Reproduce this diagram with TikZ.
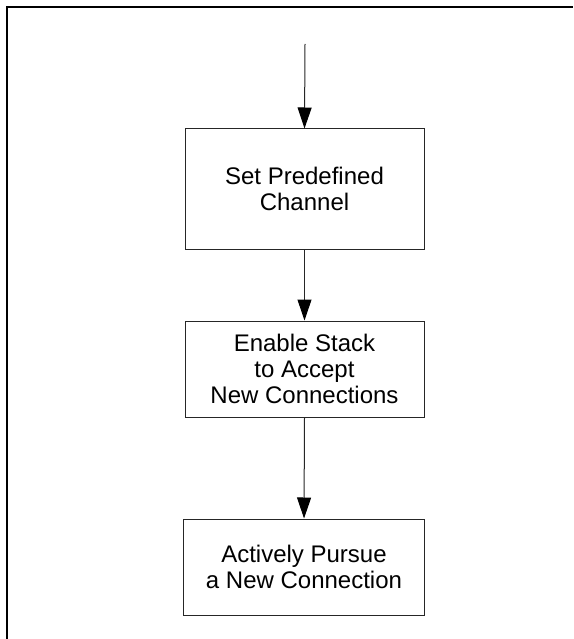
\documentclass[tikz,border=0pt]{standalone}
\usepackage{fontspec}
\setmainfont{Liberation Sans}
\usetikzlibrary{arrows.meta}
\begin{document}
\begin{tikzpicture}[x=1pt,y=-1pt,
  stepbox/.style={draw=black!85, line width=1pt, rectangle, align=center,
    inner sep=0pt, font=\fontsize{24}{26}\selectfont},
  flow/.style={draw=black!85, line width=1pt,
    -{Triangle[length=21pt,width=14pt,fill=black,color=black]}}]
  \useasboundingbox (0,0) rectangle (573,639);
  % outer frame (top and left edges only)
  \draw[line width=2pt] (7,639) -- (7,7) -- (573,7);
  % process steps
  \node[stepbox, minimum width=239pt, minimum height=120pt] (set) at (304.5,189)
    {Set Predefined\\Channel};
  \node[stepbox, minimum width=239pt, minimum height=96pt] (enable) at (304.5,369)
    {Enable Stack\\to Accept\\New Connections};
  \node[stepbox, minimum width=241pt, minimum height=96pt] (pursue) at (304,567)
    {Actively Pursue\\a New Connection};
  % connectors
  \coordinate (start) at (305,44);
  \draw[flow] (start) -- (set.north);
  \draw[flow] (set.south) -- (enable.north);
  \draw[flow] (enable.south) -- (pursue.north);
\end{tikzpicture}
\end{document}
